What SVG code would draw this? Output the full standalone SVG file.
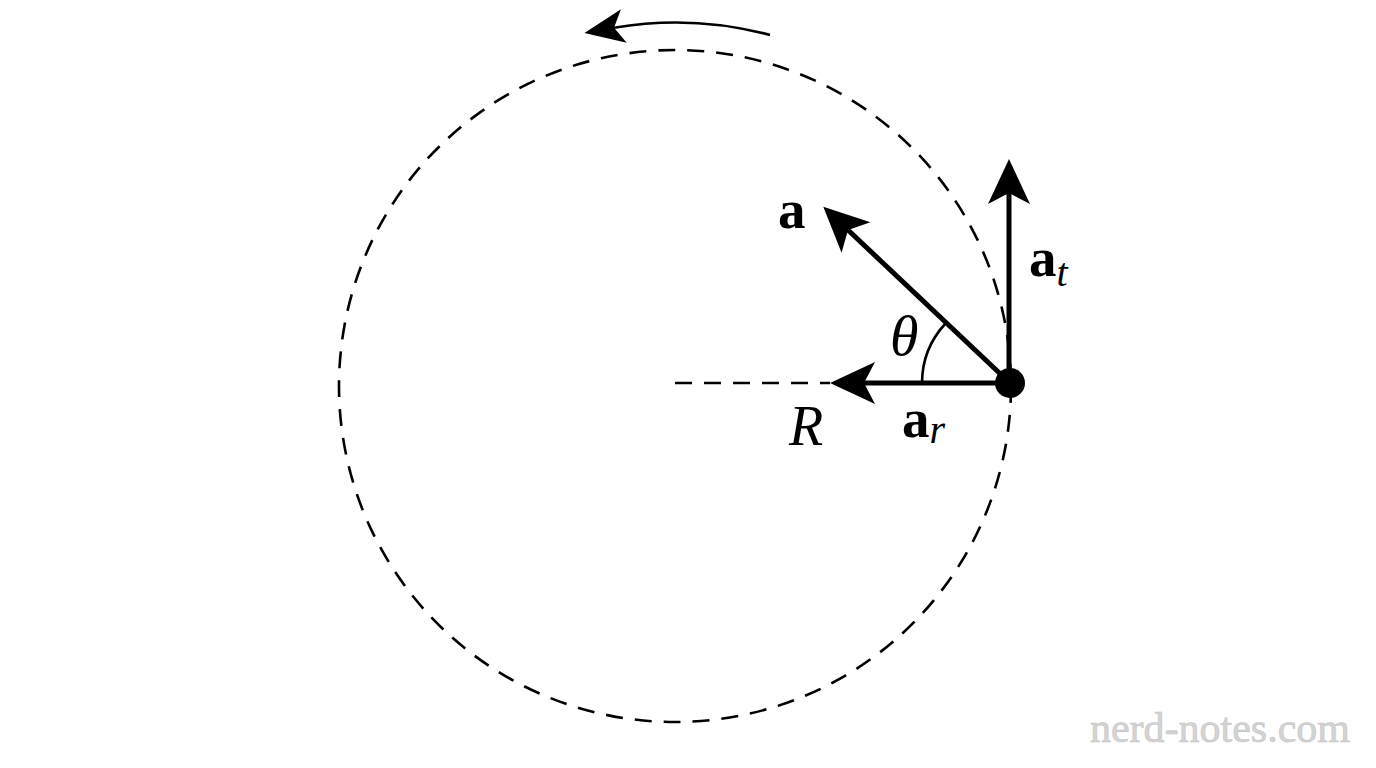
<svg xmlns="http://www.w3.org/2000/svg" width="1376" height="768" viewBox="0 0 1376 768">
<style>
.dash{fill:none;stroke:#000;stroke-width:2.6;stroke-dasharray:17 12}
.vec{fill:none;stroke:#000;stroke-width:5}
.thin{fill:none;stroke:#000;stroke-width:2.6}
.m{font-family:"Liberation Serif","DejaVu Serif",serif;fill:#000}
.b{font-weight:bold}
.i{font-style:italic}
.wm{font-family:"Liberation Serif","DejaVu Serif",serif;fill:#d4d4d4;stroke:#c4c4c4;stroke-width:0.6}
</style>
<defs>
<marker id="big" viewBox="-46 -23 48 46" markerWidth="48" markerHeight="46" refX="-34" refY="0" orient="auto" markerUnits="userSpaceOnUse">
<path d="M0,0 L-45,-21 L-34,0 L-45,21 Z" fill="#000"/>
</marker>
<marker id="small" viewBox="-42 -20 44 40" markerWidth="44" markerHeight="40" refX="-30" refY="0" orient="auto" markerUnits="userSpaceOnUse">
<path d="M0,0 L-40,-17 L-30,0 L-40,17 Z" fill="#000"/>
</marker>
</defs>
<rect width="1376" height="768" fill="#fff"/>
<g id="path-circle">
<circle class="dash" cx="675" cy="386" r="336"/>
</g>
<g id="radius-line">
<line class="dash" x1="675" y1="383" x2="830" y2="383" stroke-dasharray="18 13"/>
</g>
<g id="connectors">
<path id="rotation" class="thin" d="M770,35 A363,363 0 0 0 614,27.8" marker-end="url(#small)"/>
<line id="a-vec" class="vec" x1="1010" y1="383" x2="848" y2="230" marker-end="url(#big)"/>
<line id="at-vec" class="vec" x1="1009" y1="383" x2="1009" y2="193" marker-end="url(#big)"/>
<line id="ar-vec" class="vec" x1="1010" y1="383" x2="864" y2="383" marker-end="url(#big)"/>
<path id="theta-arc" class="thin" d="M922,383 A88,88 0 0 1 945,324"/>
</g>
<g id="particle">
<circle cx="1010" cy="383" r="15" fill="#000"/>
</g>
<g id="labels">
<text class="m b" x="778" y="228" font-size="55">a</text>
<text class="m" x="1029" y="276" font-size="55"><tspan class="b">a</tspan><tspan class="i" font-size="40" dy="10">t</tspan></text>
<text class="m" x="902" y="437" font-size="55"><tspan class="b">a</tspan><tspan class="i" font-size="40" dy="6">r</tspan></text>
<text class="m i" x="789" y="445" font-size="56">R</text>
<text class="m i" x="890" y="355" font-size="58">θ</text>
</g>
<g id="watermark">
<text class="wm" x="1350" y="742" font-size="42" text-anchor="end">nerd-notes.com</text>
</g>
</svg>
